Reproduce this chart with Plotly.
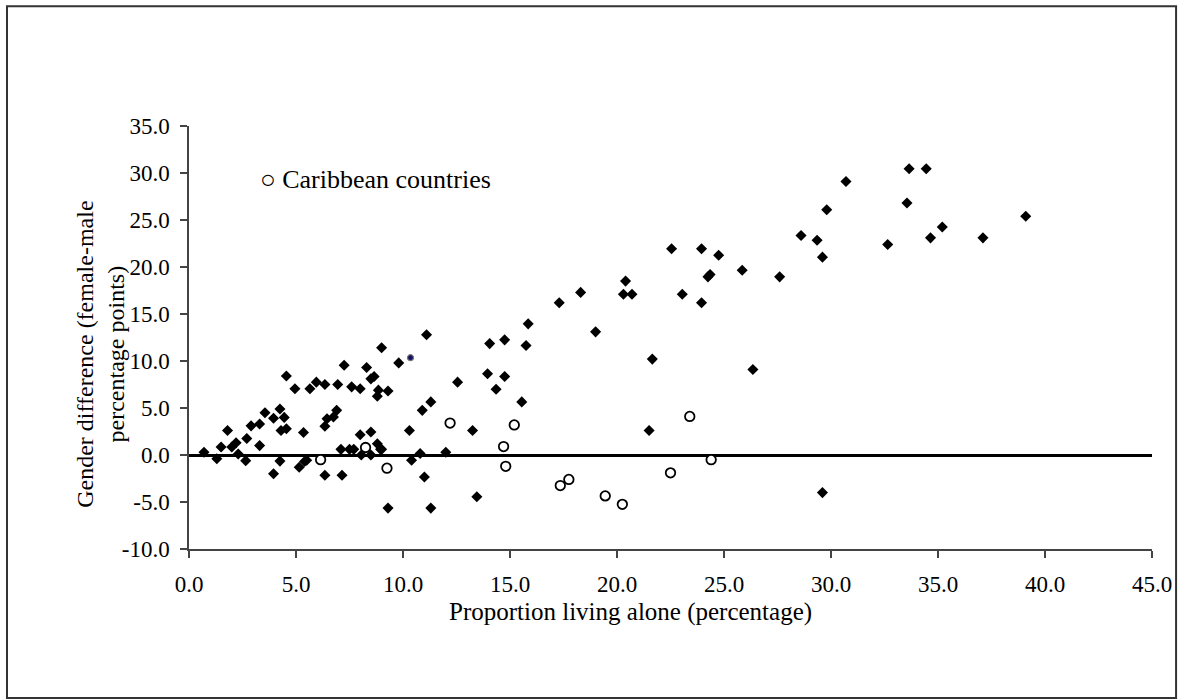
import plotly.graph_objects as go

# Other countries (filled diamonds): proportion living alone (%), gender difference (pp)
other_x = [0.7, 1.3, 1.5, 1.8, 2.0, 2.2, 2.3, 2.65, 2.7, 2.9, 3.3, 3.3, 3.55, 3.95, 3.95, 4.25, 4.25,
           4.45, 4.3, 4.55, 4.55, 4.95, 5.35, 5.15, 5.5, 5.4, 5.65, 5.95, 6.35, 6.35, 6.45, 6.75, 6.9,
           6.35, 6.95, 7.25, 7.1, 7.15, 7.6, 7.5, 7.7, 8.0, 8.0, 8.05, 8.3, 8.5, 8.65, 8.5, 8.5, 8.8,
           8.85, 8.8, 8.95, 9.0, 9.3, 9.3, 9.0, 9.8, 10.3, 10.4, 10.8, 10.9, 11.1, 11.0, 11.3, 11.3,
           12.0, 12.55, 13.25, 13.45, 13.95, 14.05, 14.75, 14.75, 14.35, 15.55, 15.75, 15.85, 17.3,
           18.3, 19.0, 21.65, 21.5, 20.4, 20.3, 20.7, 22.55, 23.05, 23.95, 23.95, 24.25, 24.35, 24.75,
           25.85, 26.35, 27.6, 28.6, 29.35, 29.6, 29.6, 29.8, 30.7, 32.65, 33.55, 33.65, 34.45, 34.65,
           35.2, 37.1, 39.1]
other_y = [0.3, -0.4, 0.85, 2.6, 0.85, 1.3, 0.1, -0.6, 1.75, 3.1, 3.3, 1.0, 4.5, 3.9, -2.0, 4.9, -0.65,
           4.0, 2.6, 2.8, 8.4, 7.05, 2.4, -1.3, -0.55, -0.7, 7.05, 7.75, 7.5, 3.05, 3.85, 4.05, 4.75,
           -2.15, 7.5, 9.55, 0.6, -2.15, 7.25, 0.6, 0.6, 7.05, 2.15, 0.0, 9.3, 8.1, 8.35, 2.45, 0.0, 1.2,
           6.9, 6.25, 0.6, 11.4, 6.8, -5.65, 0.6, 9.8, 2.6, -0.55, 0.15, 4.75, 12.8, -2.35, 5.65, -5.65,
           0.3, 7.75, 2.6, -4.45, 8.65, 11.85, 12.25, 8.35, 7.0, 5.65, 11.65, 13.95, 16.2,
           17.3, 13.1, 10.2, 2.6, 18.5, 17.1, 17.1, 21.95, 17.1, 21.95, 16.2, 18.95, 19.2, 21.25,
           19.65, 9.1, 18.95, 23.35, 22.85, 21.05, -4.0, 26.1, 29.1, 22.4, 26.8, 30.45, 30.45, 23.1,
           24.25, 23.1, 25.4]

# Caribbean countries (open circles)
carib_x = [6.15, 8.25, 9.25, 12.2, 14.7, 14.8, 15.2, 17.35, 17.75, 19.45, 20.25, 22.5, 23.4, 24.4]
carib_y = [-0.5, 0.8, -1.4, 3.4, 0.9, -1.2, 3.2, -3.25, -2.6, -4.35, -5.25, -1.9, 4.1, -0.5]

# One highlighted point (small dark-blue dot)
dot_x = [10.35]
dot_y = [10.35]

x_ticks = [0, 5, 10, 15, 20, 25, 30, 35, 40, 45]
x_ticktext = ["0.0", "5.0", "10.0", "15.0", "20.0", "25.0", "30.0", "35.0", "40.0", "45.0"]
y_ticks = [-10, -5, 0, 5, 10, 15, 20, 25, 30, 35]
y_ticktext = ["-10.0", "-5.0", "0.0", "5.0", "10.0", "15.0", "20.0", "25.0", "30.0", "35.0"]

FONT = "Liberation Serif, Times New Roman, serif"

fig = go.Figure()
fig.add_trace(go.Scatter(
    x=other_x, y=other_y, mode="markers",
    marker=dict(symbol="diamond", size=8.5, color="black", line=dict(width=0)),
    showlegend=False, hoverinfo="x+y"))
fig.add_trace(go.Scatter(
    x=carib_x, y=carib_y, mode="markers",
    marker=dict(symbol="circle", size=9.5, color="white", line=dict(width=1.8, color="black")),
    showlegend=False, hoverinfo="x+y"))
fig.add_trace(go.Scatter(
    x=dot_x, y=dot_y, mode="markers",
    marker=dict(symbol="circle", size=6, color="#101060", line=dict(width=1.2, color="#777777")),
    showlegend=False, hoverinfo="x+y"))

axis_common = dict(
    showline=True, linecolor="#444444", linewidth=1.5, mirror=False,
    ticks="outside", ticklen=7, tickwidth=1.5, tickcolor="#444444",
    showgrid=False, tickfont=dict(family=FONT, size=23, color="black"),
)

fig.update_xaxes(range=[0, 45], tickvals=x_ticks, ticktext=x_ticktext, zeroline=False,
                 ticklabelstandoff=7, **axis_common)
fig.update_yaxes(range=[-10, 35], tickvals=y_ticks, ticktext=y_ticktext,
                 zeroline=True, zerolinecolor="black", zerolinewidth=2.5,
                 ticklabelstandoff=6, **axis_common)

# Axis titles and in-plot key as annotations
fig.add_annotation(text="Proportion living alone (percentage)", xref="paper", yref="paper",
                   x=0.458, y=-0.148, showarrow=False, xanchor="center", yanchor="middle",
                   font=dict(family=FONT, size=25, color="black"))
fig.add_annotation(text="Gender difference (female-male<br>percentage points)", xref="paper", yref="paper",
                   x=-0.092, y=0.46, showarrow=False, textangle=-90, xanchor="center", yanchor="middle",
                   font=dict(family=FONT, size=24, color="black"))
fig.add_annotation(text="○ Caribbean countries", xref="paper", yref="paper",
                   x=0.072, y=0.874, showarrow=False, xanchor="left", yanchor="middle",
                   font=dict(family=FONT, size=26, color="black"))

# Outer frame around the whole chart
fig.add_shape(type="rect", xref="paper", yref="paper",
              x0=-0.189, x1=1.025, y0=-0.352, y1=1.283,
              line=dict(color="#333333", width=2), fillcolor="rgba(0,0,0,0)", layer="below")

fig.update_layout(
    width=1181, height=700,
    margin=dict(l=189, r=29, t=126, b=151, autoexpand=False),
    paper_bgcolor="white", plot_bgcolor="white",
    font=dict(family=FONT, color="black"),
)

fig.write_html("out.html")
